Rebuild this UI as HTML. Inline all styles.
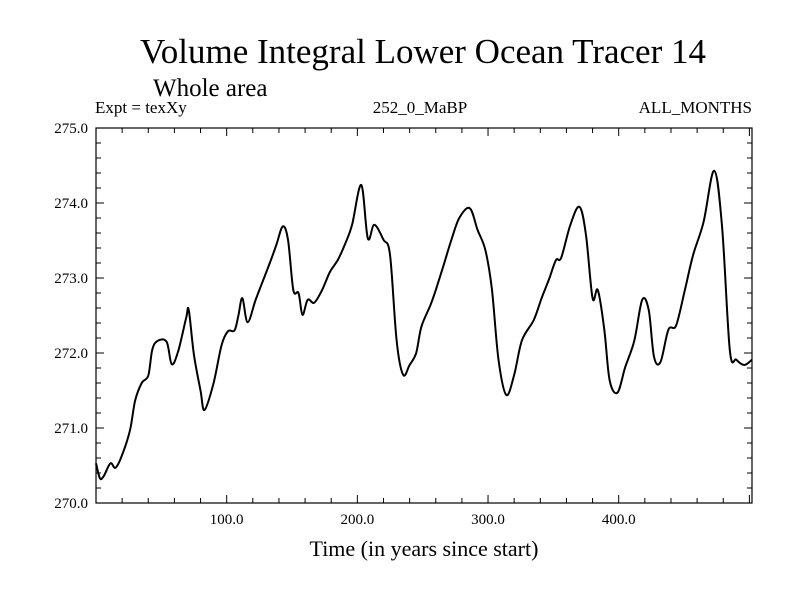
<!DOCTYPE html>
<html><head><meta charset="utf-8"><style>
body{margin:0;background:#fff}
svg text{font-family:"Liberation Serif",serif;fill:#000}
</style></head><body>
<svg width="800" height="600" viewBox="0 0 800 600">
<text x="423" y="63" font-size="35" text-anchor="middle">Volume Integral Lower Ocean Tracer 14</text>
<text x="153" y="96" font-size="25">Whole area</text>
<text x="95" y="113" font-size="17">Expt = texXy</text>
<text x="420" y="113" font-size="17" text-anchor="middle">252_0_MaBP</text>
<text x="752" y="113" font-size="17" text-anchor="end">ALL_MONTHS</text>
<g id="axes"></g>
<rect x="96" y="128" width="656" height="375" fill="none" stroke="#000" stroke-width="1.2"/>
<path id="line" fill="none" stroke="#000" stroke-width="2" stroke-linejoin="round"/>
<text x="424" y="556" font-size="22" text-anchor="middle">Time (in years since start)</text>
</svg>
<script>
const years=[0,3,6,11,15,20,26,30,35,40,43,47,54,58,63,69,71,75,80,83,90,96,101,106,109,112,116,122,127,133,138,143,147,151,155,158,162,167,173,179,185,191,196,203,208,213,220,225,230,235,240,245,249,256,260,266,272,278,286,292,298,303,308,314,320,326,335,341,347,352,356,363,370,375,380,384,389,393,399,405,412,418,423,427,432,438,444,451,457,465,473,479,485,490,496,502];
const values=[270.53,270.33,270.36,270.53,270.47,270.64,270.97,271.37,271.6,271.7,272.04,272.16,272.15,271.85,272.03,272.47,272.57,271.97,271.5,271.24,271.6,272.1,272.29,272.3,272.5,272.73,272.41,272.7,272.93,273.2,273.44,273.69,273.5,272.84,272.8,272.51,272.71,272.67,272.84,273.08,273.24,273.47,273.71,274.24,273.53,273.71,273.51,273.31,272.17,271.71,271.84,272,272.35,272.64,272.84,273.17,273.51,273.8,273.93,273.64,273.37,272.84,271.91,271.44,271.71,272.17,272.44,272.73,273,273.24,273.27,273.71,273.95,273.57,272.73,272.84,272.31,271.64,271.47,271.81,272.17,272.71,272.57,271.95,271.88,272.31,272.37,272.87,273.31,273.75,274.43,273.71,272.04,271.91,271.84,271.91];
const yTicks=["270.0","271.0","272.0","273.0","274.0","275.0"];
const xTicks=["100.0","200.0","300.0","400.0"];
const X0=96,X1=752,XMAX=502,Y0=503,Y1=128,YMIN=270,YMAX=275;
const sx=v=>X0+(v/XMAX)*(X1-X0);
const sy=v=>Y0-(v-YMIN)/(YMAX-YMIN)*(Y0-Y1);
const NS="http://www.w3.org/2000/svg";
const ax=document.getElementById('axes');
function ln(x1,y1,x2,y2){const l=document.createElementNS(NS,'line');l.setAttribute('x1',x1);l.setAttribute('y1',y1);l.setAttribute('x2',x2);l.setAttribute('y2',y2);l.setAttribute('stroke','#000');l.setAttribute('stroke-width','1');


ax.appendChild(l);}
for(let v=270;v<=275.001;v+=0.2){const y=sy(v);const major=Math.abs(v-Math.round(v))<0.01;const L=major?8:5;ln(X0,y,X0+L,y);ln(X1,y,X1-L,y);}
for(let v=20;v<XMAX;v+=20){const x=sx(v);const major=v%100===0;const L=major?8:5;ln(x,Y0,x,Y0-L);ln(x,Y1,x,Y1+L);}
yTicks.forEach(t=>{const e=document.createElementNS(NS,'text');e.setAttribute('x',88);e.setAttribute('y',sy(parseFloat(t))+5);e.setAttribute('text-anchor','end');e.setAttribute('font-size','15');e.textContent=t;


ax.appendChild(e);});
xTicks.forEach(t=>{const e=document.createElementNS(NS,'text');e.setAttribute('x',sx(parseFloat(t)));e.setAttribute('y',524);e.setAttribute('text-anchor','middle');e.setAttribute('font-size','15');e.textContent=t;


ax.appendChild(e);});
const P=years.map((y,i)=>[sx(y),sy(values[i])]);
let d='M'+P[0][0].toFixed(1)+' '+P[0][1].toFixed(1);
for(let i=0;i<P.length-1;i++){const p0=P[Math.max(0,i-1)],p1=P[i],p2=P[i+1],p3=P[Math.min(P.length-1,i+2)];
const c1=[p1[0]+(p2[0]-p0[0])/6,p1[1]+(p2[1]-p0[1])/6],c2=[p2[0]-(p3[0]-p1[0])/6,p2[1]-(p3[1]-p1[1])/6];
d+=' C'+c1.map(v=>v.toFixed(1)).join(' ')+' '+c2.map(v=>v.toFixed(1)).join(' ')+' '+p2.map(v=>v.toFixed(1)).join(' ');}
document.getElementById('line').setAttribute('d',d);
</script>
</body></html>
